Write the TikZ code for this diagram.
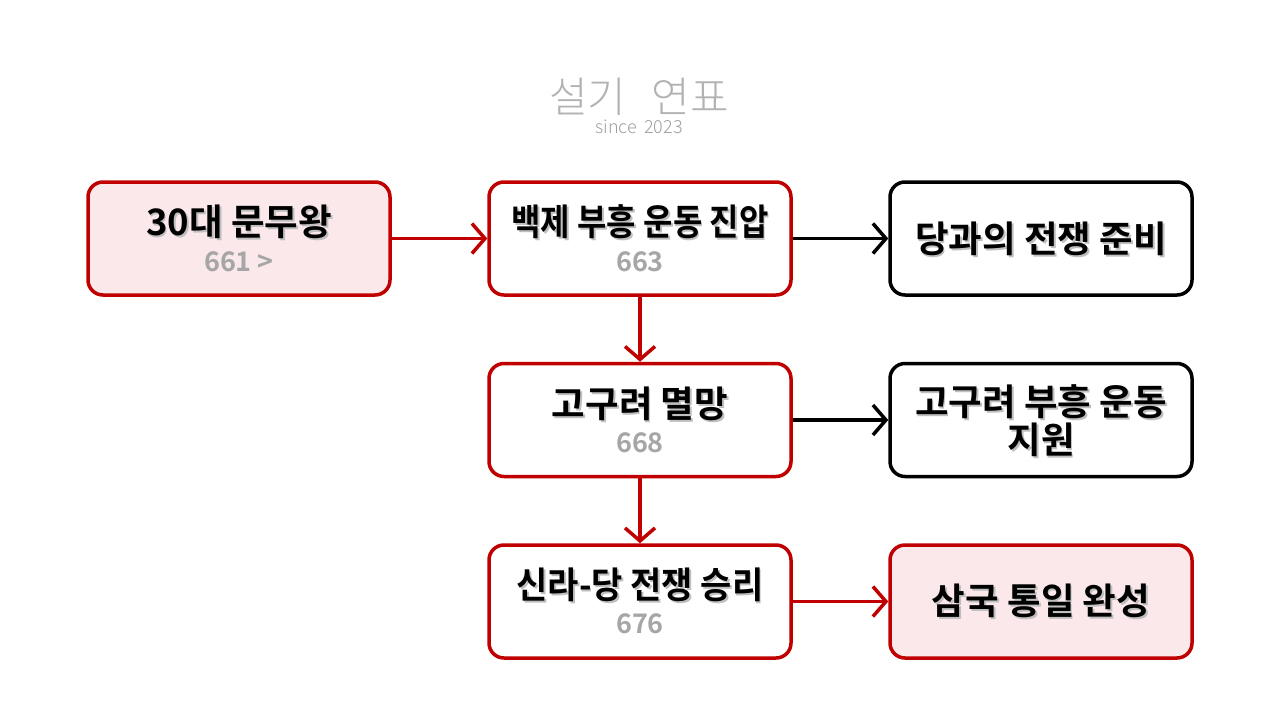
\documentclass[tikz,border=0pt]{standalone}
\usepackage{fontspec}
\usetikzlibrary{arrows.meta}
\setmainfont{Noto Sans CJK KR}[BoldFont={Noto Sans CJK KR Bold}]
\newfontfamily\krlight{Noto Sans CJK KR Light}
\definecolor{sred}{HTML}{C00000}
\definecolor{spink}{HTML}{FBE8EA}
\definecolor{yeargray}{HTML}{A6A6A6}
\newcommand{\shd}[1]{\rlap{\kern1.8pt\raisebox{-1.8pt}{\color{black!25}#1}}#1}
\tikzset{
  box/.style={draw, rectangle, rounded corners=15pt, line width=3.5pt,
    minimum width=302pt, minimum height=113pt, inner sep=0pt},
  redbox/.style={box, draw=sred, fill=white},
  pinkbox/.style={box, draw=sred, fill=spink},
  blackbox/.style={box, draw=black, fill=white},
  maintext/.style={inner sep=0pt, align=center, font=\fontsize{36.5}{38}\selectfont\bfseries},
  yeartext/.style={inner sep=0pt, text=yeargray, font=\fontsize{27}{30}\selectfont\bfseries},
  redarr/.style={draw=sred, line width=3.5pt, -{Straight Barb[length=13pt,width=30pt]}},
  blackarr/.style={draw=black, line width=3.5pt, -{Straight Barb[length=13pt,width=30pt]}},
}
\begin{document}
\begin{tikzpicture}[x=1pt,y=-1pt]
\useasboundingbox (0,0) rectangle (1280,720);
\node[inner sep=0pt] (title) at (639,97) {\krlight\fontsize{42}{44}\selectfont\color{black!30}설기\hspace{0.6em}연표};
\node[inner sep=0pt] (since) at (639,127) {\krlight\fontsize{18}{20}\selectfont\color{black!38}since\hspace{0.4em}2023};

\node[pinkbox] (a) at (239,238.5) {};
\node[redbox] (b) at (640,238.5) {};
\node[blackbox] (c) at (1041,238.5) {};
\node[redbox] (d) at (640,420) {};
\node[blackbox] (e) at (1041,420) {};
\node[redbox] (f) at (640,601.5) {};
\node[pinkbox] (g) at (1041,601.5) {};

\node[maintext] (at1) at (239,223) {\shd{30대 문무왕}};
\node[yeartext] (ay) at (239,262) {661 >};
\node[maintext] (bt1) at (640,223) {\shd{\scalebox{0.875}[1]{백제 부흥 운동 진압}}};
\node[yeartext] (by) at (640,262) {663};
\node[maintext] (ct1) at (1041,240) {\shd{당과의 전쟁 준비}};
\node[maintext] (dt1) at (640,405) {\shd{고구려 멸망}};
\node[yeartext] (dy) at (640,443) {668};
\node[maintext] (et1) at (1041,403) {\shd{고구려 부흥 운동}};
\node[maintext] (et2) at (1041,441) {\shd{지원}};
\node[maintext] (ft1) at (640,586) {\shd{\scalebox{0.93}[1]{신라-당 전쟁 승리}}};
\node[yeartext] (fy) at (640,624) {676};
\node[maintext] (gt1) at (1041,602) {\shd{삼국 통일 완성}};

\draw[redarr] (a.east) -- (b.west);
\draw[blackarr] (b.east) -- (c.west);
\draw[redarr] (b.south) -- (d.north);
\draw[blackarr] (d.east) -- (e.west);
\draw[redarr] (d.south) -- (f.north);
\draw[redarr] (f.east) -- (g.west);
\end{tikzpicture}
\end{document}
